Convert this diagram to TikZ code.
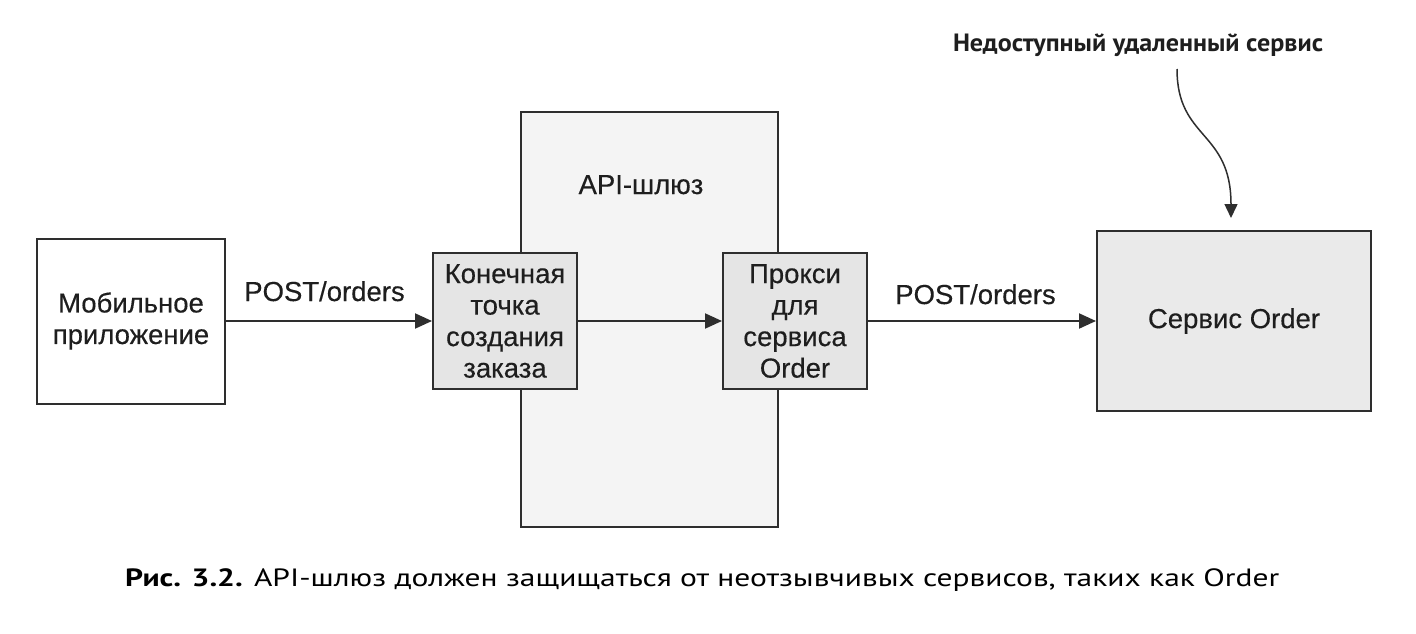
\documentclass[tikz,border=0pt]{standalone}
\usepackage{fontspec}
\usepackage{graphicx}
\setmainfont{Liberation Sans}
\newfontfamily\nodefont{Liberation Sans}[FakeBold=0.3]
\newfontfamily\capfont{PT Sans}
\newfontfamily\titlefont{PT Sans}
\usetikzlibrary{arrows.meta}
\definecolor{linec}{HTML}{2E2E2E}
\definecolor{textc}{HTML}{1E1E1E}
\definecolor{gwfill}{HTML}{F4F4F4}
\definecolor{boxfill}{HTML}{E5E5E5}
\definecolor{ordfill}{HTML}{EAEAEA}
\begin{document}
\begin{tikzpicture}[x=1pt,y=-1pt,
  box/.style={draw=linec, line width=2pt, inner sep=0pt, align=center,
    font=\nodefont\fontsize{27.5}{31.5}\selectfont, text=textc},
  lbl/.style={inner sep=0pt, font=\nodefont\fontsize{27.5}{31.5}\selectfont, text=textc},
  conn/.style={draw=linec, line width=2pt, -{Triangle[length=17pt,width=15pt]}},
  curvearr/.style={draw=linec, line width=1.5pt, -{Triangle[length=14pt,width=13pt]}}]
\useasboundingbox[fill=white] (0,0) rectangle (1416,634);

% API gateway
\node[box, fill=gwfill, minimum width=257pt, minimum height=415pt] (gw) at (649.5,319.5) {};
\node[lbl, anchor=base] (gwl) at (641,194) {API-шлюз};

% boxes
\node[box, fill=white, minimum width=188pt, minimum height=165pt] (mob) at (131,321) {Мобильное\\приложение};
\node[box, fill=boxfill, minimum width=144pt, minimum height=136pt] (ep) at (505,321) {Конечная\\точка\\создания\\заказа};
\node[box, fill=boxfill, minimum width=144pt, minimum height=136pt] (px) at (795,321) {Прокси\\для\\сервиса\\Order};
\node[box, fill=ordfill, minimum width=274pt, minimum height=180pt] (ord) at (1234,321) {Сервис Order};

% connectors
\draw[conn] (mob) -- (ep);
\draw[conn] (ep) -- (px);
\draw[conn] (px) -- (ord);

% labels
\node[lbl, anchor=base] (p1) at (324.5,301) {POST/orders};
\node[lbl, anchor=base] (p2) at (975.5,304) {POST/orders};

% title and curved arrow
\node[inner sep=0pt, anchor=base, text=textc] (ttl) at (1138,52)
  {\resizebox{370pt}{\height}{\titlefont\bfseries\fontsize{25}{28}\selectfont Недоступный удаленный сервис}};
\coordinate (ts) at (1177,69);
\draw[curvearr] (ts) .. controls (1177,140) and (1231,130) .. ([xshift=-3pt,yshift=12pt]ord.north);

% caption
\node[inner sep=0pt, anchor=base west, text=black] (cap) at (125,586)
  {\resizebox{1154pt}{\height}{\capfont\fontsize{25}{30}\selectfont\textbf{Рис. 3.2.} API-шлюз должен защищаться от неотзывчивых сервисов, таких как Order}};
\end{tikzpicture}
\end{document}
